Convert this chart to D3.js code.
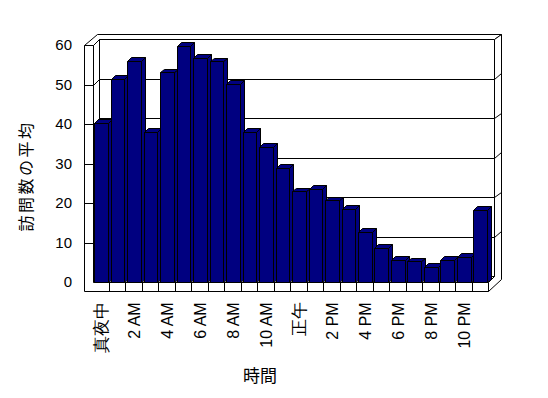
<!DOCTYPE html>
<html>
<head>
<meta charset="utf-8">
<script src="https://cdn.jsdelivr.net/npm/d3@7"></script>
<style>
  body { margin: 0; background: #fff; }
  svg { display: block; font-family: 'Noto Sans CJK JP', 'Noto Sans', sans-serif; }
</style>
</head>
<body>
<svg></svg>
<script>
// data
let hours = ['真夜中', '1 AM', '2 AM', '3 AM', '4 AM', '5 AM', '6 AM', '7 AM', '8 AM', '9 AM', '10 AM', '11 AM',
             '正午', '1 PM', '2 PM', '3 PM', '4 PM', '5 PM', '6 PM', '7 PM', '8 PM', '9 PM', '10 PM', '11 PM']
let visits = [40.4, 51.5, 56.1, 38.1, 53.1, 59.8, 56.8, 55.9, 50.2, 38.0, 34.3, 29.0,
              23.0, 23.6, 20.7, 18.5, 12.7, 8.7, 5.7, 5.3, 3.9, 5.7, 6.4, 18.4]
let hourTicks = ['真夜中', '2 AM', '4 AM', '6 AM', '8 AM', '10 AM', '正午', '2 PM', '4 PM', '6 PM', '8 PM', '10 PM']
let valueTicks = [0, 10, 20, 30, 40, 50, 60]
let gridValues = [10, 20, 30, 40, 50]

let yTitle = '訪問数の平均'
let xTitle = '時間'

// canvas
let width = 548
let height = 398

// box geometry (front plane)
let outerLeft = 84.7
let innerLeft = 93
let right = 488.7
let floorTop = 282.7
let floorBottom = 291.3
let depthX = 12.5
let depthY = -11.5
let wallZ = 0.5
let barZ = 0.32

let svg = d3.select('svg').attr('width', width).attr('height', height)

let xScale = d3.scaleBand()
               .domain(hours)
               .range([innerLeft, right])

let yScale = d3.scaleLinear()
               .domain([0, 60])
               .range([floorTop, 45.7])

let wallTop = yScale(60)

// snap to pixel centres so 1px lines stay sharp
let snap = (v) => Math.floor(v) + 0.5

// oblique projection: z goes back into the picture
let P = (x, y, z) => [snap(x + z * depthX), snap(y + z * depthY)]
let poly = (pts) => pts.map(p => p.join(',')).join(' ')

let drawShape = (pts, fill) => {
    svg.append('polygon')
        .attr('points', poly(pts))
        .attr('fill', fill)
        .attr('stroke', '#000')
        .attr('stroke-width', 1)
}

let drawLine = (a, b) => {
    svg.append('line')
        .attr('x1', a[0]).attr('y1', a[1])
        .attr('x2', b[0]).attr('y2', b[1])
        .attr('stroke', '#000')
        .attr('stroke-width', 1)
}

let drawWalls = () => {
    // back wall inner face
    drawShape([P(innerLeft, wallTop, wallZ), P(right, wallTop, wallZ),
               P(right, floorTop, wallZ), P(innerLeft, floorTop, wallZ)], '#fff')
    // top of back wall + left wall
    drawShape([P(outerLeft, wallTop, 0), P(innerLeft, wallTop, 0), P(innerLeft, wallTop, wallZ),
               P(right, wallTop, wallZ), P(right, wallTop, 1), P(outerLeft, wallTop, 1)], '#fff')
    // right side of back wall and floor
    drawShape([P(right, wallTop, wallZ), P(right, wallTop, 1), P(right, floorBottom, 1),
               P(right, floorBottom, 0), P(right, floorTop, 0), P(right, floorTop, wallZ)], '#fff')
    // inner face of left wall
    drawShape([P(innerLeft, wallTop, 0), P(innerLeft, wallTop, wallZ),
               P(innerLeft, floorTop, wallZ), P(innerLeft, floorTop, 0)], '#fff')
    // floor top
    drawShape([P(innerLeft, floorTop, 0), P(right, floorTop, 0),
               P(right, floorTop, wallZ), P(innerLeft, floorTop, wallZ)], '#fff')

    // gridlines
    gridValues.forEach(v => {
        let y = yScale(v)
        drawLine(P(innerLeft, y, 0), P(innerLeft, y, wallZ))
        drawLine(P(innerLeft, y, wallZ), P(right, y, wallZ))
        drawLine(P(right, y, wallZ), P(right, y, 1))
    })
}

let drawBars = () => {
    hours.forEach((h, i) => {
        let x0 = xScale(h) + 1.7
        let x1 = x0 + xScale.bandwidth() - 2.7
        let y = yScale(visits[i])
        // front
        drawShape([P(x0, y, 0), P(x1, y, 0), P(x1, floorTop, 0), P(x0, floorTop, 0)], '#000080')
        // side
        drawShape([P(x1, y, 0), P(x1, y, barZ), P(x1, floorTop, barZ), P(x1, floorTop, 0)], '#000080')
        // top
        drawShape([P(x0, y, 0), P(x1, y, 0), P(x1, y, barZ), P(x0, y, barZ)], '#000080')
    })
}

let drawFront = () => {
    // front face of left wall and floor
    drawShape([P(outerLeft, wallTop, 0), P(innerLeft, wallTop, 0), P(innerLeft, floorTop, 0), P(right, floorTop, 0),
               P(right, floorBottom, 0), P(outerLeft, floorBottom, 0)], '#fff')
    gridValues.forEach(v => {
        drawLine(P(outerLeft, yScale(v), 0), P(innerLeft, yScale(v), 0))
    })
    hours.slice(1).forEach(h => {
        drawLine(P(xScale(h), floorTop, 0), P(xScale(h), floorBottom, 0))
    })
}

let generateAxes = () => {
    let yAxis = d3.axisLeft(yScale)
                  .tickValues(valueTicks)
                  .tickSize(0)
                  .tickPadding(12.7)

    let yg = svg.append('g')
        .attr('transform', 'translate(' + outerLeft + ', -1)')
        .call(yAxis)
    yg.select('.domain').remove()
    yg.selectAll('text')
        .attr('font-size', 15)
        .attr('font-family', null)
        .attr('fill', '#000')

    let xAxis = d3.axisBottom(xScale)
                  .tickValues(hourTicks)
                  .tickSize(0)

    let xg = svg.append('g')
        .attr('transform', 'translate(0, ' + floorBottom + ')')
        .call(xAxis)
    xg.select('.domain').remove()
    xg.selectAll('text')
        .attr('font-size', (d) => /[A-Z]/.test(d) ? 16 : 17)
        .attr('font-family', null)
        .attr('fill', '#000')
        .attr('y', 0)
        .attr('x', -11)
        .attr('dy', '0.35em')
        .attr('transform', 'rotate(-90)')
        .style('text-anchor', 'end')

    // axis titles
    svg.append('text')
        .attr('transform', 'translate(26, 176) rotate(-90)')
        .attr('text-anchor', 'middle')
        .attr('dy', '0.35em')
        .attr('font-size', 16)
        .attr('letter-spacing', 2.5)
        .text(yTitle)

    svg.append('text')
        .attr('x', 260)
        .attr('y', 376)
        .attr('text-anchor', 'middle')
        .attr('dy', '0.35em')
        .attr('font-size', 17)
        .text(xTitle)
}

drawWalls()
drawBars()
drawFront()
generateAxes()
</script>
</body>
</html>
